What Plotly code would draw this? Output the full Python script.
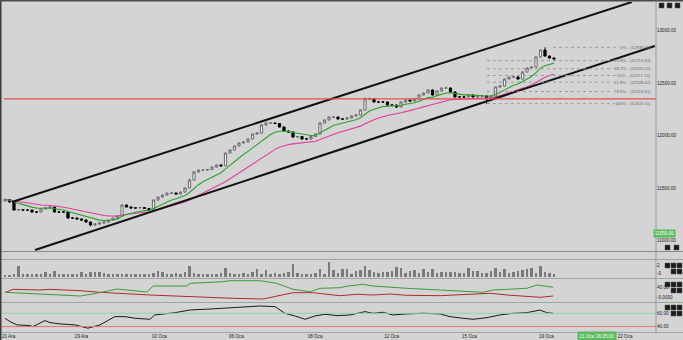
import plotly.graph_objects as go

W, H = 683, 340
ML, MR = 2, 27
PW = W - ML - MR  # plot width in px


def pxx(px):
    return (px - ML) / PW


def pxy(py):
    return 1 - py / H


# ---------------- data ----------------
opens = [11376, 11390, 11367, 11290, 11295, 11290, 11290, 11271, 11271, 11300,
         11310, 11319, 11271, 11271, 11271, 11214, 11214, 11205, 11195, 11176,
         11148, 11157, 11167, 11176, 11195, 11214, 11233, 11338, 11319, 11310,
         11310, 11314, 11305, 11290, 11386, 11414, 11433, 11452, 11452, 11443,
         11462, 11500, 11576, 11652, 11671, 11671, 11676, 11700, 11719, 11710,
         11833, 11862, 11900, 11929, 11938, 11967, 12014, 12024, 12100, 12119,
         12119, 12114, 12081, 12043, 12033, 11986, 11990, 11967, 11967, 11990,
         12014, 12119, 12148, 12176, 12176, 12157, 12157, 12167, 12186, 12195,
         12243, 12348, 12348, 12319, 12319, 12319, 12290, 12290, 12271, 12319,
         12338, 12329, 12348, 12386, 12405, 12433, 12386, 12424, 12452, 12452,
         12414, 12367, 12367, 12367, 12386, 12367, 12376, 12376, 12357, 12376,
         12462, 12471, 12538, 12557, 12557, 12538, 12605, 12643, 12652, 12748,
         12814, 12757, 12738]
closes = [11390, 11367, 11290, 11295, 11290, 11290, 11271, 11271, 11300, 11310,
          11319, 11271, 11271, 11271, 11214, 11214, 11205, 11195, 11176, 11148,
          11157, 11167, 11176, 11195, 11214, 11233, 11338, 11319, 11310, 11310,
          11314, 11305, 11290, 11386, 11414, 11433, 11452, 11452, 11443, 11462,
          11500, 11576, 11652, 11671, 11671, 11676, 11700, 11719, 11710, 11833,
          11862, 11900, 11929, 11938, 11967, 12014, 12024, 12100, 12119, 12119,
          12114, 12081, 12043, 12033, 11986, 11990, 11967, 11967, 11990, 12014,
          12119, 12148, 12176, 12176, 12157, 12157, 12167, 12186, 12195, 12243,
          12348, 12348, 12319, 12319, 12319, 12290, 12290, 12271, 12319, 12338,
          12329, 12348, 12386, 12405, 12433, 12386, 12424, 12452, 12452, 12414,
          12367, 12367, 12367, 12386, 12367, 12376, 12376, 12357, 12376, 12462,
          12471, 12538, 12557, 12557, 12538, 12605, 12643, 12652, 12748, 12814,
          12757, 12738, 12729]
highs = [11400, 11395, 11372, 11300, 11299, 11296, 11294, 11278, 11305, 11314,
         11330, 11324, 11277, 11276, 11276, 11220, 11219, 11210, 11200, 11180,
         11162, 11172, 11181, 11200, 11219, 11238, 11345, 11343, 11324, 11316,
         11319, 11318, 11310, 11391, 11419, 11438, 11457, 11458, 11457, 11467,
         11505, 11590, 11662, 11676, 11676, 11681, 11705, 11724, 11724, 11838,
         11867, 11905, 11934, 11943, 11972, 12019, 12029, 12110, 12129, 12124,
         12124, 12119, 12086, 12048, 12038, 11995, 11995, 11972, 11995, 12019,
         12124, 12153, 12181, 12181, 12181, 12165, 12172, 12191, 12200, 12248,
         12365, 12362, 12353, 12324, 12326, 12324, 12296, 12295, 12324, 12343,
         12343, 12353, 12391, 12410, 12438, 12438, 12429, 12457, 12460, 12457,
         12419, 12372, 12374, 12391, 12391, 12381, 12381, 12381, 12381, 12467,
         12476, 12543, 12562, 12562, 12562, 12610, 12648, 12657, 12753, 12819,
         12839.93, 12762, 12743]
lows = [11371, 11360, 11285, 11284, 11285, 11284, 11266, 11266, 11266, 11295,
        11305, 11266, 11265, 11266, 11209, 11208, 11200, 11190, 11170, 11135,
        11138, 11150, 11160, 11170, 11190, 11209, 11228, 11314, 11305, 11305,
        11305, 11300, 11285, 11286, 11381, 11409, 11428, 11447, 11438, 11438,
        11457, 11495, 11570, 11647, 11666, 11666, 11671, 11695, 11705, 11705,
        11828, 11857, 11895, 11924, 11933, 11962, 12009, 12019, 12095, 12114,
        12109, 12076, 12038, 12028, 11976, 11981, 11957, 11960, 11962, 11985,
        12009, 12114, 12143, 12171, 12150, 12150, 12152, 12162, 12181, 12190,
        12238, 12343, 12314, 12314, 12312, 12280, 12285, 12262, 12266, 12314,
        12324, 12324, 12343, 12381, 12400, 12381, 12381, 12419, 12447, 12409,
        12362, 12362, 12360, 12362, 12362, 12362, 12371, 12303.51, 12352, 12371,
        12457, 12466, 12533, 12552, 12533, 12533, 12600, 12638, 12647, 12743,
        12752, 12733, 12724]
volumes = [2, 2, 3, 13, 4, 3, 3, 4, 4, 6,
           3, 7, 4, 3, 4, 4, 4, 6, 3, 6,
           6, 6, 5, 4, 4, 3, 4, 3, 3, 3,
           4, 4, 3, 5, 7, 6, 4, 4, 5, 4,
           6, 13, 5, 4, 4, 3, 4, 4, 5, 11,
           5, 4, 4, 5, 4, 6, 9, 3, 8, 4,
           5, 4, 5, 6, 15, 5, 4, 4, 4, 5,
           9, 4, 18, 8, 5, 9, 10, 4, 7, 8,
           13, 8, 6, 5, 6, 6, 7, 12, 11, 5,
           7, 8, 5, 9, 6, 9, 5, 6, 6, 6,
           6, 5, 5, 11, 7, 7, 5, 5, 7, 11,
           6, 9, 5, 6, 7, 8, 10, 11, 5, 13,
           6, 5, 3]
bars = list(range(len(closes)))

# x axis (bar index) tick labels
date_ticks = [0.8, 17.0, 34.3, 51.4, 68.9, 85.9, 103.2, 120.3, 137.8]
date_labels = ["21 Ara", "29 Ara", "02 Oca", "06 Oca", "08 Oca", "12 Oca", "15 Oca", "19 Oca", "22 Oca"]
cursor_bar = 131.6
cursor_label = "21 Oca '26 05:00"

price_ticks = [11000, 11500, 12000, 12500, 13000]
price_tick_text = ["11000.00", "11500.00", "12000.00", "12500.00", "13000.00"]
cursor_price = 11070
cursor_price_label = "11050.00"

# Fibonacci retracement
fib_names = ["0%", "23.6%", "38.2%", "50%", "61.8%", "78.6%", "100%"]
fib_values = [12839.93, 12713.34, 12635.02, 12571.72, 12508.42, 12418.31, 12303.51]
fib_start_bar = [121.8, 107.1, 107.1, 107.1, 107.1, 107.1, 107.1]

# horizontal support line and channel
support_level = 12348
upper_channel_bar = [1.56, 139.3]
upper_channel_val = [11366.6, 13271.4]
lower_channel_bar = [6.67, 144.4]
lower_channel_val = [10909.5, 12852.4]

# directional indicator pane (green / red)
di_plus_bar = [0, 7.8, 16.7, 20.4, 24.9, 31.6, 32.9, 40.4, 41.1, 48.4, 50, 56.7, 60.4, 64, 67.8,
               70, 74.4, 76.2, 79.6, 81.8, 85.6, 89.3, 96.7, 104, 106.2, 108.4, 116, 118.2, 119.6, 121.8]
di_plus = [20.8, 13.8, 5.4, 16.7, 34.6, 22.1, 47.1, 47.1, 58.3, 65.0, 69.2, 69.2, 58.3, 33.3, 23.3,
           37.5, 40.0, 47.1, 54.2, 47.1, 41.7, 37.5, 30.4, 23.3, 20.8, 30.4, 37.5, 51.3, 47.1, 41.7]
di_minus_bar = [0, 1.8, 7.8, 10, 16.7, 21.1, 32.2, 43.3, 50.7, 57.3, 61.8, 64, 68.4, 72.2, 74.4,
                78.2, 81.8, 85.6, 89.3, 96.7, 100.4, 107.8, 111.6, 116, 118.9, 121.8]
di_minus = [19.2, 33.3, 30.4, 33.3, 27.5, 20.8, 9.6, 0.0, -4.2, -7.1, 9.6, 19.2, 19.2, 12.5, 6.7,
            12.5, 9.6, 13.8, 8.3, 6.7, 9.6, 16.7, 9.6, 2.5, 0.0, 5.4]

# oscillator pane (black) with 60 / 40 levels
osc_bar = [0, 1.1, 2.7, 5.6, 6.2, 7.8, 8.9, 10, 12.2, 15.6, 18.4, 21.1, 24.4, 26.7, 28.9, 32.2, 33.3,
           37.8, 41.1, 45.6, 52.2, 56.7, 60, 62.2, 64.4, 66.7, 68.9, 71.1, 74, 76.7, 80, 81.8, 84,
           86.2, 89.3, 92.9, 96.7, 98.9, 101.8, 104, 107.1, 110, 112.9, 116, 118.9, 120.4, 121.8]
osc_val = [52.5, 47.5, 42.5, 41.5, 40.0, 45.1, 49.0, 46.0, 44.0, 42.5, 37.6, 42.5, 54.9, 54.9, 52.5,
           51.0, 57.5, 60.9, 64.9, 66.4, 69.0, 70.9, 69.9, 60.0, 56.0, 51.0, 56.0, 58.5, 56.4, 57.5,
           62.4, 60.0, 61.5, 57.5, 59.0, 60.0, 59.0, 54.9, 52.5, 51.0, 53.4, 57.5, 60.0, 60.9, 64.9,
           60.9, 60.0]
osc_upper = 60
osc_lower = 40


def ema(vals, n):
    a = 2.0 / (n + 1)
    out = [vals[0]]
    for v in vals[1:]:
        out.append(out[-1] + a * (v - out[-1]))
    return out


ema_fast = ema(closes, 9)
ema_slow = ema(closes, 21)

# ---------------- layout geometry ----------------
BG = "#d4d4d4"
X_RANGE = [(ML - 5) / 4.5, (ML + PW - 5) / 4.5]
main_dom = [pxy(251), pxy(2)]
vol_dom = [pxy(278), pxy(260)]
di_dom = [pxy(302), pxy(279)]
osc_dom = [pxy(332), pxy(303)]
price_range = [13000 - (251 - 30.5) * 9.524, 13000 - (2 - 30.5) * 9.524]

fig = go.Figure()

fig.add_trace(go.Candlestick(
    x=bars, open=opens, high=highs, low=lows, close=closes,
    increasing=dict(line=dict(color="#6a6a6a", width=1), fillcolor="#f2f2f2"),
    decreasing=dict(line=dict(color="#000000", width=1), fillcolor="#000000"),
    whiskerwidth=0, xaxis="x", yaxis="y", showlegend=False, hoverinfo="skip"))

fig.add_trace(go.Scatter(x=bars, y=ema_slow, mode="lines", line=dict(color="#e23c9c", width=1.1),
                         xaxis="x", yaxis="y", showlegend=False, hoverinfo="skip"))
fig.add_trace(go.Scatter(x=bars, y=ema_fast, mode="lines", line=dict(color="#2f9e2f", width=1.1),
                         xaxis="x", yaxis="y", showlegend=False, hoverinfo="skip"))

# channel lines
fig.add_trace(go.Scatter(x=upper_channel_bar, y=upper_channel_val, mode="lines",
                         line=dict(color="#111111", width=2), xaxis="x", yaxis="y",
                         showlegend=False, hoverinfo="skip"))
fig.add_trace(go.Scatter(x=lower_channel_bar, y=lower_channel_val, mode="lines",
                         line=dict(color="#111111", width=2), xaxis="x", yaxis="y",
                         showlegend=False, hoverinfo="skip"))

# volume
fig.add_trace(go.Bar(x=bars, y=volumes, marker=dict(color="#7a7a7a", line=dict(width=0)), width=0.45,
                     xaxis="x2", yaxis="y2", showlegend=False, hoverinfo="skip"))

# DI pane
fig.add_trace(go.Scatter(x=di_minus_bar, y=di_minus, mode="lines", line=dict(color="#b02a2a", width=1),
                         xaxis="x3", yaxis="y3", showlegend=False, hoverinfo="skip"))
fig.add_trace(go.Scatter(x=di_plus_bar, y=di_plus, mode="lines", line=dict(color="#3c9c3c", width=1),
                         xaxis="x3", yaxis="y3", showlegend=False, hoverinfo="skip"))

# oscillator pane
fig.add_trace(go.Scatter(x=osc_bar, y=osc_val, mode="lines", line=dict(color="#1a1a1a", width=1),
                         xaxis="x4", yaxis="y4", showlegend=False, hoverinfo="skip"))

shapes = []
# support line
shapes.append(dict(type="line", xref="x", yref="y", x0=(4 - 5) / 4.5, x1=X_RANGE[1],
                   y0=support_level, y1=support_level, line=dict(color="#e05050", width=1.2)))
# fib levels
label_right_px = 653
for name, val, sb in zip(fib_names, fib_values, fib_start_bar):
    txt = "%s - (%.2f)" % (name, val)
    end_px = label_right_px - len(txt) * 2.05 - 3
    shapes.append(dict(type="line", xref="x", yref="y", x0=sb, x1=(end_px - 5) / 4.5,
                       y0=val, y1=val, line=dict(color="#9a9a9a", width=1, dash="dot")))
# oscillator levels
shapes.append(dict(type="line", xref="paper", yref="y4", x0=0, x1=1, y0=osc_upper, y1=osc_upper,
                   line=dict(color="#8fd68f", width=1)))
shapes.append(dict(type="line", xref="paper", yref="y4", x0=0, x1=1, y0=osc_lower, y1=osc_lower,
                   line=dict(color="#e87070", width=1)))
# pane separators and frame
for py, col in [(251.5, "#8c8c8c"), (259.5, "#9aaa9a"), (278.5, "#9aaa9a"), (302.5, "#9aaa9a"),
                (332.5, "#9aaa9a")]:
    shapes.append(dict(type="line", xref="paper", yref="paper", x0=pxx(0), x1=pxx(683),
                       y0=pxy(py), y1=pxy(py), line=dict(color=col, width=1)))
shapes.append(dict(type="line", xref="paper", yref="paper", x0=pxx(656), x1=pxx(656),
                   y0=pxy(2), y1=pxy(332), line=dict(color="#9a9a9a", width=1)))
shapes.append(dict(type="rect", xref="paper", yref="paper", x0=pxx(0), x1=pxx(1.5),
                   y0=pxy(340), y1=pxy(0), fillcolor="#3a3a3a", line=dict(width=0)))
shapes.append(dict(type="rect", xref="paper", yref="paper", x0=pxx(0), x1=pxx(683),
                   y0=pxy(1.5), y1=pxy(0), fillcolor="#4a4a4a", line=dict(width=0)))
# UI buttons on the right
buttons = [(659, 3), (667, 3), (675, 3), (665, 245), (674, 245),
           (665, 263), (671, 263), (677, 263), (671, 269), (677, 269),
           (665, 282), (671, 282), (677, 282), (671, 288), (677, 288),
           (665, 305), (671, 305), (677, 305), (671, 311), (677, 311)]
for bx, by in buttons:
    shapes.append(dict(type="rect", xref="paper", yref="paper", x0=pxx(bx), x1=pxx(bx + 5),
                       y0=pxy(by + 5), y1=pxy(by), fillcolor="#1c1c1c", line=dict(color="#555", width=0.5)))

annotations = []
for name, val in zip(fib_names, fib_values):
    annotations.append(dict(xref="paper", yref="y", x=pxx(label_right_px), y=val, xanchor="right",
                            yanchor="middle", text="%s - (%.2f)" % (name, val), showarrow=False,
                            font=dict(size=4.3, color="#6a6a6a", family="Liberation Sans, Arial")))
annotations.append(dict(xref="paper", yref="y", x=pxx(653), y=cursor_price, xanchor="left",
                        yanchor="middle", text=cursor_price_label, showarrow=False,
                        bgcolor="#5dbb5d", borderpad=1,
                        font=dict(size=4.5, color="#ffffff", family="Liberation Sans, Arial")))
annotations.append(dict(xref="x", yref="paper", x=cursor_bar, y=pxy(336), xanchor="center",
                        yanchor="middle", text=cursor_label, showarrow=False,
                        bgcolor="#5dbb5d", borderpad=1.5,
                        font=dict(size=4.5, color="#ffffff", family="Liberation Sans, Arial")))

tickfont = dict(size=4.6, color="#222222", family="Liberation Sans, Arial")

fig.update_layout(
    width=W, height=H, margin=dict(l=ML, r=MR, t=0, b=0),
    paper_bgcolor=BG, plot_bgcolor=BG, showlegend=False, bargap=0,
    shapes=shapes, annotations=annotations,
    xaxis=dict(domain=[0, 1], range=X_RANGE, anchor="y", showticklabels=False, showgrid=False,
               zeroline=False, rangeslider=dict(visible=False), fixedrange=True),
    xaxis2=dict(domain=[0, 1], range=X_RANGE, anchor="y2", matches="x", showticklabels=False,
                showgrid=False, zeroline=False),
    xaxis3=dict(domain=[0, 1], range=X_RANGE, anchor="y3", matches="x", showticklabels=False,
                showgrid=False, zeroline=False),
    xaxis4=dict(domain=[0, 1], range=X_RANGE, anchor="y4", matches="x", showgrid=False, zeroline=False,
                tickmode="array", tickvals=date_ticks, ticktext=date_labels, ticks="",
                tickfont=tickfont, ticklabelstandoff=0),
    yaxis=dict(domain=main_dom, range=price_range, anchor="x", side="right", showgrid=False,
               zeroline=False, tickmode="array", tickvals=price_ticks, ticktext=price_tick_text,
               ticks="", tickfont=tickfont),
    yaxis2=dict(domain=vol_dom, range=[-1.18, 20], anchor="x2", side="right", showgrid=False,
                zeroline=False, tickmode="array", tickvals=[14, 4.7], ticktext=["2", "-0"],
                ticks="", tickfont=tickfont),
    yaxis3=dict(domain=di_dom, range=[-19.6, 76.3], anchor="x3", side="right", showgrid=False,
                zeroline=False, tickmode="array", tickvals=[40, 0], ticktext=["40.00", "-0.0000"],
                ticks="", tickfont=tickfont),
    yaxis4=dict(domain=osc_dom, range=[31.9, 75.4], anchor="x4", side="right", showgrid=False,
                zeroline=False, tickmode="array", tickvals=[60, 40], ticktext=["60.00", "40.00"],
                ticks="", tickfont=tickfont),
)

fig.write_html("out.html")
